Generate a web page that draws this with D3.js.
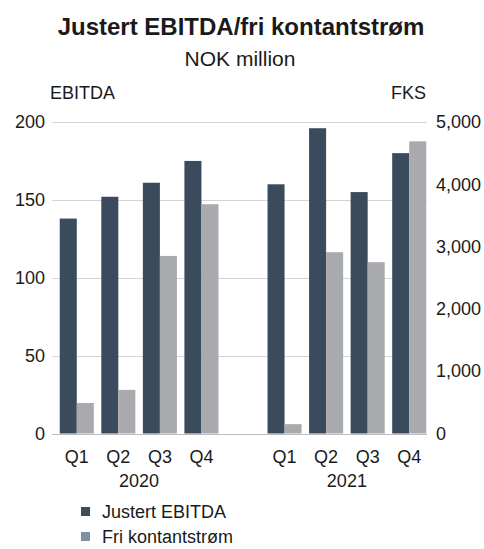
<!DOCTYPE html>
<html>
<head>
<meta charset="utf-8">
<script src="https://cdn.jsdelivr.net/npm/d3@7"></script>
<style>
    body { margin: 0; background: #fff; }
    text { font-family: "Liberation Sans", Arial, sans-serif; fill: #1a1a1a; }
</style>
</head>
<body>
<script>
//chart data
var years = ["2020", "2021"];
var quarters = ["Q1", "Q2", "Q3", "Q4"];
var ebitda2020 = [138, 152, 161, 175];
var ebitda2021 = [160, 196, 155, 180];
var fks2020 = [490, 700, 2850, 3680];
var fks2021 = [150, 2910, 2750, 4690];
var leftTicks = [0, 50, 100, 150, 200];
var rightTicks = [0, 1000, 2000, 3000, 4000, 5000];
var seriesNames = ["Justert EBITDA", "Fri kontantstrøm"];

window.onload = drawChart();

function drawChart(){

    //frame dimensions
    var width = 484,
        height = 549;

    var svg = d3.select("body")
        .append("svg")
        .attr("width", width)
        .attr("height", height);

    //one slot per quarter, with an empty slot between the years
    var rows = [];
    quarters.forEach(function(q, i){
        rows.push({key: "2020" + q, q: q, year: "2020", ebitda: ebitda2020[i], fks: fks2020[i]});
    });
    rows.push({key: "gap", q: "", year: ""});
    quarters.forEach(function(q, i){
        rows.push({key: "2021" + q, q: q, year: "2021", ebitda: ebitda2021[i], fks: fks2021[i]});
    });

    var x0 = d3.scaleBand()
        .domain(rows.map(function(d){ return d.key; }))
        .range([56, 430]);

    var x1 = d3.scaleBand()
        .domain(["ebitda", "fks"])
        .range([0, x0.bandwidth()])
        .paddingOuter(0.22);

    var yLeft = d3.scaleLinear().domain([0, 200]).range([433.5, 122]);
    var yRight = d3.scaleLinear().domain([0, 5000]).range([433.5, 122]);

    //titles
    svg.append("text")
        .attr("x", 241).attr("y", 35)
        .attr("text-anchor", "middle")
        .style("font-size", "24px").style("font-weight", "bold")
        .text("Justert EBITDA/fri kontantstrøm");
    svg.append("text")
        .attr("x", 240).attr("y", 66)
        .attr("text-anchor", "middle")
        .style("font-size", "21px")
        .text("NOK million");
    svg.append("text")
        .attr("x", 50).attr("y", 99)
        .style("font-size", "18px")
        .text("EBITDA");
    svg.append("text")
        .attr("x", 426).attr("y", 99)
        .attr("text-anchor", "end")
        .style("font-size", "18px")
        .text("FKS");

    //gridlines
    svg.selectAll(".grid")
        .data(leftTicks)
        .enter()
        .append("line")
        .attr("class", "grid")
        .attr("x1", 52).attr("x2", 427)
        .attr("y1", function(d){ return Math.round(yLeft(d)) + 0.5; })
        .attr("y2", function(d){ return Math.round(yLeft(d)) + 0.5; })
        .attr("stroke", function(d){ return d === 0 ? "#bdbdbd" : "#d4d4d4"; })
        .attr("stroke-width", 1);

    //left axis labels
    svg.append("g")
        .attr("transform", "translate(45,0)")
        .call(d3.axisLeft(yLeft).tickValues(leftTicks).tickSize(0).tickPadding(0))
        .call(function(g){ g.select(".domain").remove(); })
        .selectAll("text")
        .style("font-size", "18px")
        .attr("fill", "#1a1a1a");

    //right axis labels
    svg.append("g")
        .attr("transform", "translate(436,0)")
        .call(d3.axisRight(yRight).tickValues(rightTicks).tickSize(0).tickPadding(0).tickFormat(d3.format(",")))
        .call(function(g){ g.select(".domain").remove(); })
        .selectAll("text")
        .style("font-size", "18px")
        .attr("fill", "#1a1a1a");

    //bars
    var groups = svg.selectAll(".slot")
        .data(rows.filter(function(d){ return d.key !== "gap"; }))
        .enter()
        .append("g")
        .attr("class", "slot")
        .attr("transform", function(d){ return "translate(" + x0(d.key) + ",0)"; });

    groups.append("rect")
        .attr("x", x1("ebitda"))
        .attr("width", x1.bandwidth())
        .attr("y", function(d){ return yLeft(d.ebitda); })
        .attr("height", function(d){ return yLeft(0) - yLeft(d.ebitda); })
        .attr("fill", "#3a4b5d");

    groups.append("rect")
        .attr("x", x1("fks"))
        .attr("width", x1.bandwidth())
        .attr("y", function(d){ return yRight(d.fks); })
        .attr("height", function(d){ return yRight(0) - yRight(d.fks); })
        .attr("fill", "#a9aaae");

    //quarter labels
    groups.append("text")
        .attr("x", x0.bandwidth() / 2)
        .attr("y", 463)
        .attr("text-anchor", "middle")
        .style("font-size", "18px")
        .text(function(d){ return d.q; });

    //year labels centred under their quarters
    years.forEach(function(yr){
        var keys = quarters.map(function(q){ return yr + q; });
        var cx = (x0(keys[0]) + x0(keys[3]) + x0.bandwidth()) / 2;
        svg.append("text")
            .attr("x", cx).attr("y", 487)
            .attr("text-anchor", "middle")
            .style("font-size", "18px")
            .text(yr);
    });

    //legend (rows tightened so the second one stays inside the frame)
    var legendColors = ["#3d4b5d", "#7f929d"];
    var legend = svg.selectAll(".legend")
        .data(seriesNames)
        .enter()
        .append("g")
        .attr("class", "legend")
        .attr("transform", function(d, i){ return "translate(81," + (507 + i * 25) + ")"; });

    legend.append("rect")
        .attr("width", 9).attr("height", 9)
        .attr("fill", function(d, i){ return legendColors[i]; });

    legend.append("text")
        .attr("x", 21).attr("y", 11)
        .style("font-size", "18px")
        .text(function(d){ return d; });
}
</script>
</body>
</html>
